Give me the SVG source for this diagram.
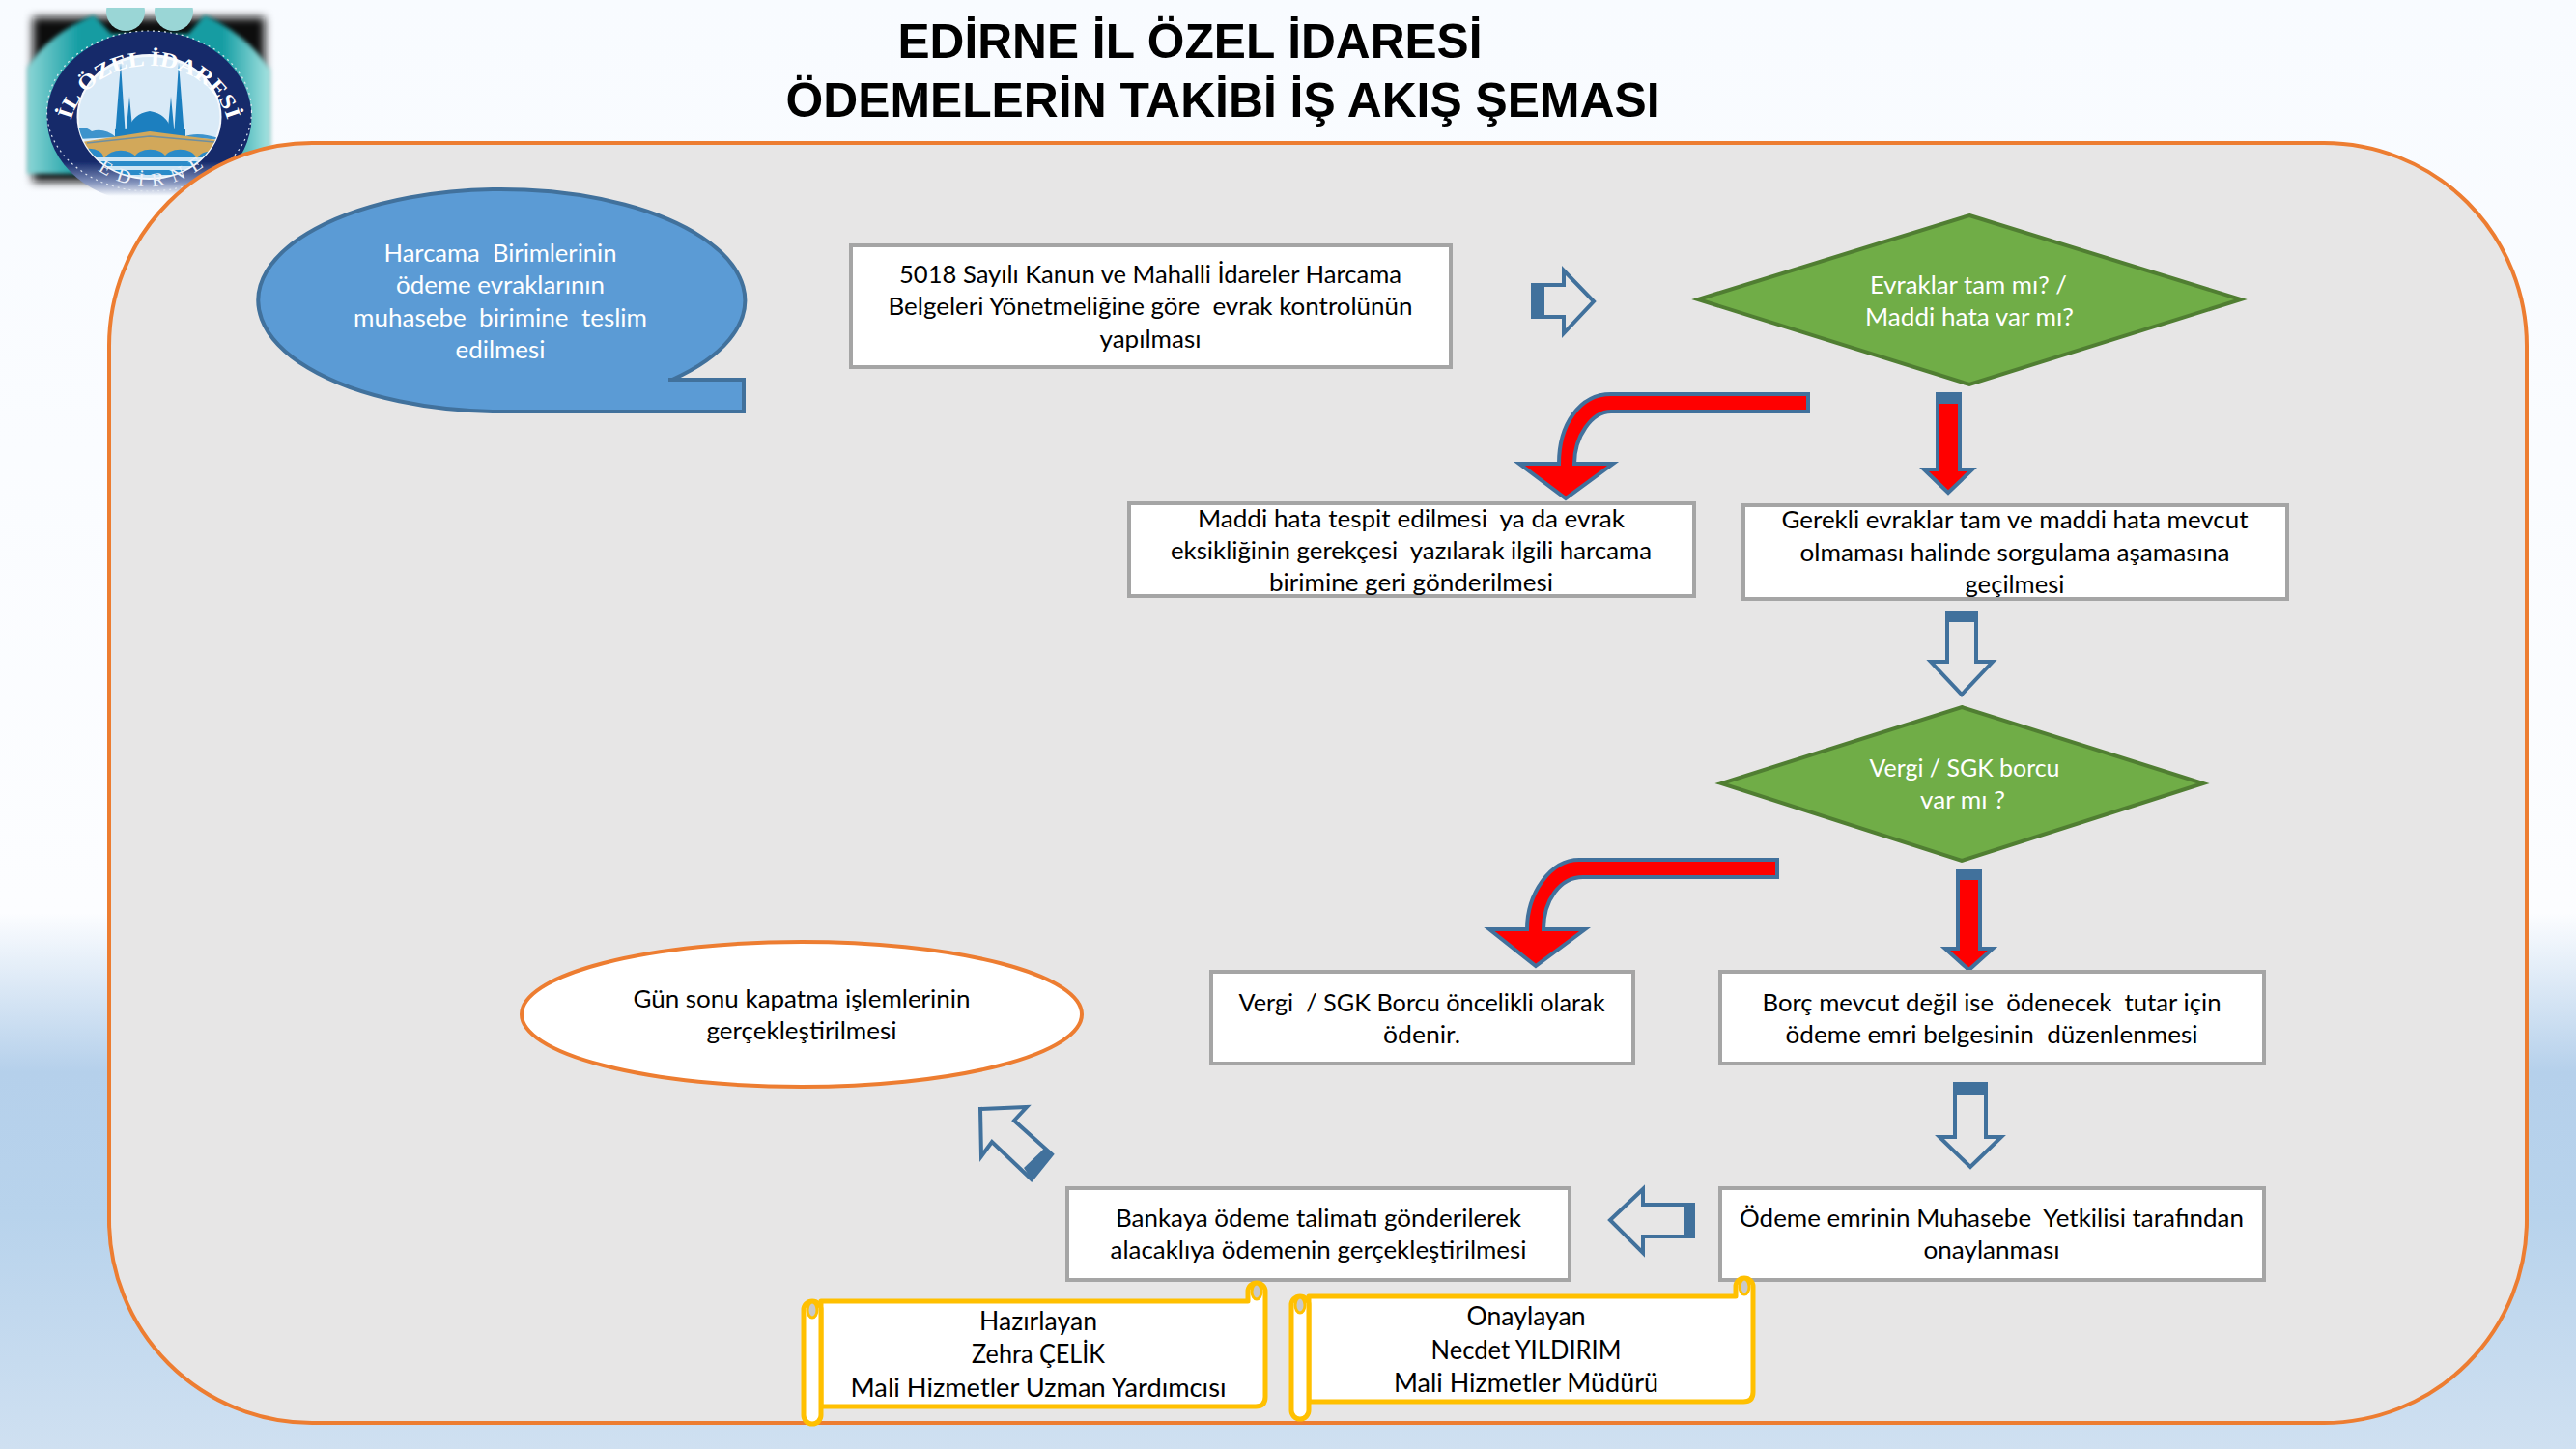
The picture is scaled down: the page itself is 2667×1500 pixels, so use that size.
<svg xmlns="http://www.w3.org/2000/svg" width="2667" height="1500" viewBox="0 0 2667 1500">
<style>
text{font-family:"Lato","Carlito","Liberation Sans",sans-serif;font-size:25px;text-anchor:middle;white-space:pre;fill:#000}
.w{fill:#fff}
.big{font-size:27px}
.title{font-family:"Liberation Sans",Arial,sans-serif;font-weight:bold;font-size:50px}
.box{fill:#fff;stroke:#A5A5A5;stroke-width:4}
.dia{fill:#70AD47;stroke:#507E32;stroke-width:4}
.red{fill:#FF0000;stroke:#41719C;stroke-width:4;stroke-linejoin:miter}
.hol{fill:#E7E6E6;stroke:#41719C;stroke-width:4;stroke-linejoin:miter}
.tail{fill:#41719C;stroke:none}
.scr{fill:#fff;stroke:#FFC000;stroke-width:5;stroke-linejoin:round}
.hole{fill:#C9C9C9;stroke:#FFC000;stroke-width:3}
.lg{font-family:"Liberation Serif",serif;font-size:22px;font-weight:bold;fill:#fff}
</style>
<defs>
<linearGradient id="bg" x1="0" y1="0" x2="0" y2="1">
<stop offset="0" stop-color="#F8FBFF"/><stop offset="0.63" stop-color="#FCFDFF"/><stop offset="0.74" stop-color="#B5D0EB"/><stop offset="0.84" stop-color="#B8D3EC"/><stop offset="1" stop-color="#CFE0F1"/>
</linearGradient>
<linearGradient id="ringG" x1="0" y1="0" x2="0" y2="1">
<stop offset="0" stop-color="#14296B"/><stop offset="0.76" stop-color="#14296B"/><stop offset="0.88" stop-color="#8090BA"/><stop offset="0.96" stop-color="#F8FBFF"/>
</linearGradient>
<linearGradient id="teal" x1="0" y1="0" x2="1" y2="0">
<stop offset="0" stop-color="#8CD6D6"/><stop offset="0.22" stop-color="#129CA2"/><stop offset="0.8" stop-color="#129CA2"/><stop offset="1" stop-color="#A8E4E2"/>
</linearGradient>
<filter id="soft" x="-10%" y="-10%" width="120%" height="120%"><feGaussianBlur stdDeviation="5"/></filter>
<filter id="soft3" x="-10%" y="-10%" width="120%" height="120%"><feGaussianBlur stdDeviation="2"/></filter>
<filter id="soft2"><feGaussianBlur stdDeviation="0.5"/></filter>
<clipPath id="inner"><ellipse cx="154.500" cy="121" rx="74" ry="63"/></clipPath>
<clipPath id="topClip"><rect x="0" y="8" width="320" height="200"/></clipPath>
<path id="arcTop" d="M72,132 A83 72 0 0 1 237,132"/>
<path id="arcBot" d="M92,170 Q155,218 220,166"/>
</defs>
<rect id="background" width="2667" height="1500" fill="url(#bg)"/>
<g id="logo">
<rect x="34" y="18" width="240" height="170" fill="#111" filter="url(#soft)"/>
<path d="M28,180 V70 Q50,35 97,16 L115,35 H195 L212,16 Q255,35 280,72 V180 Z" fill="url(#teal)" filter="url(#soft3)"/>
<g clip-path="url(#topClip)">
<circle cx="130" cy="12" r="20" fill="#9AD6D6" filter="url(#soft2)"/>
<circle cx="180" cy="12" r="20" fill="#9AD6D6" filter="url(#soft2)"/>
</g>
<g filter="url(#soft2)">
<ellipse cx="154.500" cy="121" rx="106" ry="89" fill="url(#ringG)"/>
<ellipse cx="154.500" cy="115" rx="106" ry="83" fill="none" stroke="#DFE6F0" stroke-width="1.200" stroke-dasharray="2 4"/>
<ellipse cx="154.500" cy="121" rx="75" ry="65" fill="#F4F8FC"/>
<ellipse cx="154.500" cy="121" rx="73" ry="62" fill="#D9EAF7"/>
<g clip-path="url(#inner)">
<path d="M119,142 L125,65 L130,142 Z M180,142 L185,65 L191,142 Z M130,142 L134,100 L138,142 Z M173,142 L177,100 L181,142 Z" fill="#1F7FBF"/>
<path d="M119,142 V134 H133 Q137,118 155,115 Q173,118 177,134 H192 V142 Z" fill="#1F7FBF"/>
<path d="M80,144 V133 Q88,130 95,136 Q108,132 120,142 Z M190,142 Q205,135 232,145 Z" fill="#3C93CC"/>
<path d="M78,148 L155,136 L232,146 V163 H78 Z" fill="#D2A85A"/>
<path d="M90,148 L155,141 L222,147" fill="none" stroke="#6E8FA0" stroke-width="1.500"/>
<path d="M109,163 A17 11 0 0 1 141,163 Z M139,163 A17 11 0 0 1 172,163 Z M170,163 A17 11 0 0 1 203,163 Z M205,163 A14 9 0 0 1 232,163 Z M78,163 A14 9 0 0 1 107,163 Z" fill="#2C8BC9"/>
<rect x="78" y="163" width="154" height="4" fill="#CFE6F5"/>
<rect x="78" y="167" width="154" height="5" fill="#2C8BC9"/>
<rect x="78" y="172" width="154" height="4" fill="#CFE6F5"/>
<rect x="78" y="176" width="154" height="5" fill="#2C8BC9"/>
<rect x="78" y="181" width="154" height="5" fill="#CFE6F5"/>
</g>
</g>
<text class="lg"><textPath href="#arcTop" startOffset="50%" textLength="212" lengthAdjust="spacingAndGlyphs">İL ÖZEL İDARESİ</textPath></text>
<text class="lg" style="fill:#EEF1F8;font-size:20px;font-weight:normal"><textPath href="#arcBot" startOffset="50%" textLength="118" lengthAdjust="spacing">EDİRNE</textPath></text>
</g>
<rect id="panel" x="113" y="148" width="2503" height="1325" rx="210" ry="210" fill="#E7E6E6" stroke="#ED7D31" stroke-width="4"/>
<g id="title">
<text class="title" x="1232" y="60" textLength="605" lengthAdjust="spacingAndGlyphs">EDİRNE İL ÖZEL İDARESİ</text>
<text class="title" x="1266" y="121" textLength="905" lengthAdjust="spacingAndGlyphs">ÖDEMELERİN TAKİBİ İŞ AKIŞ ŞEMASI</text>
</g>
<g id="connectors">
<g id="arrow-right"><path class="hol" d="M1587,295 H1619 V280 L1650,312 L1619,345 V328 H1587 Z"/><path class="tail" d="M1585,293 H1599 V330 H1585 Z"/></g>
<path id="curve-1" class="red" d="M1872,408 H1668 C1635,408 1614,440 1614,480 H1573 L1621,516 L1670,480 H1630 C1630,452 1648,426 1668,426 H1872 Z"/>
<g id="arrow-down-1"><path class="red" d="M2006,408 H2029 V486 H2042 L2017,510 L1992,486 H2006 Z"/><path class="tail" d="M2004,406 H2031 V418 H2004 Z"/></g>
<g id="arrow-down-2"><path class="hol" d="M2016,634 H2046 V685 H2063 L2031,719 L1999,685 H2016 Z"/><path class="tail" d="M2014,632 H2048 V644 H2014 Z"/></g>
<path id="curve-2" class="red" d="M1840,890 H1635 C1605,890 1581,925 1581,962 H1542 L1590,1000 L1641,962 H1598 C1598,932 1615,908 1639,908 H1840 Z"/>
<g id="arrow-down-3"><path class="red" d="M2027,902 H2050 V982 H2063 L2038.500,1004 L2014,982 H2027 Z"/><path class="tail" d="M2025,900 H2052 V911 H2025 Z"/></g>
<g id="arrow-down-4"><path class="hol" d="M2024,1122 H2056 V1177 H2072 L2040,1208 L2008,1177 H2024 Z"/><path class="tail" d="M2022,1120 H2058 V1134 H2022 Z"/></g>
<g id="arrow-left"><path class="hol" d="M1753,1247 V1280 H1701 V1297 L1667,1263 L1701,1231 V1247 Z"/><path class="tail" d="M1743,1245 H1755 V1282 H1743 Z"/></g>
<g id="arrow-upleft"><path class="hol" d="M1015,1148 L1063,1146 L1050,1160 L1089,1195 L1068,1221 L1027,1182 L1016,1197 Z"/><path class="tail" d="M1089,1195 L1068,1221 L1060,1209 L1082,1188 Z"/></g>
</g>
<g id="n-harcama">
<path d="M692,393 H770 V426 H519 A252 115 0 1 1 696,393 Z" fill="#5B9BD5" stroke="#41719C" stroke-width="4"/>
<text class="w" x="518" y="271" textLength="241" lengthAdjust="spacingAndGlyphs">Harcama  Birimlerinin</text>
<text class="w" x="518" y="304" textLength="216" lengthAdjust="spacingAndGlyphs">ödeme evraklarının</text>
<text class="w" x="518" y="338" textLength="304" lengthAdjust="spacingAndGlyphs">muhasebe  birimine  teslim</text>
<text class="w" x="518" y="371" textLength="93" lengthAdjust="spacingAndGlyphs">edilmesi</text>
</g>
<g id="n-kontrol">
<rect class="box" x="881" y="254" width="621" height="126"/>
<text x="1191" y="293" textLength="520" lengthAdjust="spacingAndGlyphs">5018 Sayılı Kanun ve Mahalli İdareler Harcama</text>
<text x="1191" y="326" textLength="543" lengthAdjust="spacingAndGlyphs">Belgeleri Yönetmeliğine göre  evrak kontrolünün</text>
<text x="1191" y="360" textLength="105" lengthAdjust="spacingAndGlyphs">yapılması</text>
</g>
<g id="n-evraklar">
<polygon class="dia" points="2039,223 2320,310 2039,398 1758,310"/>
<text class="w" x="2038" y="304" textLength="204" lengthAdjust="spacingAndGlyphs">Evraklar tam mı? /</text>
<text class="w" x="2039" y="337" textLength="216" lengthAdjust="spacingAndGlyphs">Maddi hata var mı?</text>
</g>
<g id="n-maddi">
<rect class="box" x="1169" y="521" width="585" height="96"/>
<text x="1461" y="546" textLength="442" lengthAdjust="spacingAndGlyphs">Maddi hata tespit edilmesi  ya da evrak</text>
<text x="1461" y="579" textLength="498" lengthAdjust="spacingAndGlyphs">eksikliğinin gerekçesi  yazılarak ilgili harcama</text>
<text x="1461" y="612" textLength="294" lengthAdjust="spacingAndGlyphs">birimine geri gönderilmesi</text>
</g>
<g id="n-gerekli">
<rect class="box" x="1805" y="523" width="563" height="97"/>
<text x="2086" y="547" textLength="483" lengthAdjust="spacingAndGlyphs">Gerekli evraklar tam ve maddi hata mevcut</text>
<text x="2086" y="581" textLength="445" lengthAdjust="spacingAndGlyphs">olmaması halinde sorgulama aşamasına</text>
<text x="2086" y="614" textLength="103" lengthAdjust="spacingAndGlyphs">geçilmesi</text>
</g>
<g id="n-vergi">
<polygon class="dia" points="2031,732 2281,811 2031,891 1782,811"/>
<text class="w" x="2034" y="804" textLength="197" lengthAdjust="spacingAndGlyphs">Vergi / SGK borcu</text>
<text class="w" x="2032" y="837" textLength="88" lengthAdjust="spacingAndGlyphs">var mı ?</text>
</g>
<g id="n-gunsonu">
<ellipse cx="830" cy="1050" rx="290" ry="75" fill="#fff" stroke="#ED7D31" stroke-width="4"/>
<text x="830" y="1043" textLength="349" lengthAdjust="spacingAndGlyphs">Gün sonu kapatma işlemlerinin</text>
<text x="830" y="1076" textLength="197" lengthAdjust="spacingAndGlyphs">gerçekleştirilmesi</text>
</g>
<g id="n-borc-odenir">
<rect class="box" x="1254" y="1006" width="437" height="95"/>
<text x="1472" y="1047" textLength="379" lengthAdjust="spacingAndGlyphs">Vergi  / SGK Borcu öncelikli olarak</text>
<text x="1472" y="1080" textLength="80" lengthAdjust="spacingAndGlyphs">ödenir.</text>
</g>
<g id="n-emri">
<rect class="box" x="1781" y="1006" width="563" height="95"/>
<text x="2062" y="1047" textLength="475" lengthAdjust="spacingAndGlyphs">Borç mevcut değil ise  ödenecek  tutar için</text>
<text x="2062" y="1080" textLength="427" lengthAdjust="spacingAndGlyphs">ödeme emri belgesinin  düzenlenmesi</text>
</g>
<g id="n-banka">
<rect class="box" x="1105" y="1230" width="520" height="95"/>
<text x="1365" y="1270" textLength="420" lengthAdjust="spacingAndGlyphs">Bankaya ödeme talimatı gönderilerek</text>
<text x="1365" y="1303" textLength="431" lengthAdjust="spacingAndGlyphs">alacaklıya ödemenin gerçekleştirilmesi</text>
</g>
<g id="n-onay">
<rect class="box" x="1781" y="1230" width="563" height="95"/>
<text x="2062" y="1270" textLength="522" lengthAdjust="spacingAndGlyphs">Ödeme emrinin Muhasebe  Yetkilisi tarafından</text>
<text x="2062" y="1303" textLength="141" lengthAdjust="spacingAndGlyphs">onaylanması</text>
</g>
<g id="n-hazirlayan">
<path class="scr" d="M850,1347 H1292 V1337 A9 9 0 0 1 1310,1337 V1446 Q1310,1456 1300,1456 H850 Z"/>
<path class="scr" d="M832,1356 A9 9 0 0 1 850,1356 V1465 A9 9 0 0 1 832,1465 Z"/>
<ellipse class="hole" cx="841" cy="1356" rx="5" ry="8"/>
<ellipse class="hole" cx="1301" cy="1337" rx="5" ry="8"/>
<text class="big" x="1075" y="1377" textLength="122" lengthAdjust="spacingAndGlyphs">Hazırlayan</text>
<text class="big" x="1075" y="1411" textLength="138" lengthAdjust="spacingAndGlyphs">Zehra ÇELİK</text>
<text class="big" x="1075" y="1446" textLength="389" lengthAdjust="spacingAndGlyphs">Mali Hizmetler Uzman Yardımcısı</text>
</g>
<g id="n-onaylayan">
<path class="scr" d="M1355,1342 H1797 V1332 A9 9 0 0 1 1815,1332 V1441 Q1815,1451 1805,1451 H1355 Z"/>
<path class="scr" d="M1337,1351 A9 9 0 0 1 1355,1351 V1460 A9 9 0 0 1 1337,1460 Z"/>
<ellipse class="hole" cx="1346" cy="1351" rx="5" ry="8"/>
<ellipse class="hole" cx="1806" cy="1332" rx="5" ry="8"/>
<text class="big" x="1580" y="1372" textLength="123" lengthAdjust="spacingAndGlyphs">Onaylayan</text>
<text class="big" x="1580" y="1407" textLength="197" lengthAdjust="spacingAndGlyphs">Necdet YILDIRIM</text>
<text class="big" x="1580" y="1441" textLength="274" lengthAdjust="spacingAndGlyphs">Mali Hizmetler Müdürü</text>
</g>
</svg>
